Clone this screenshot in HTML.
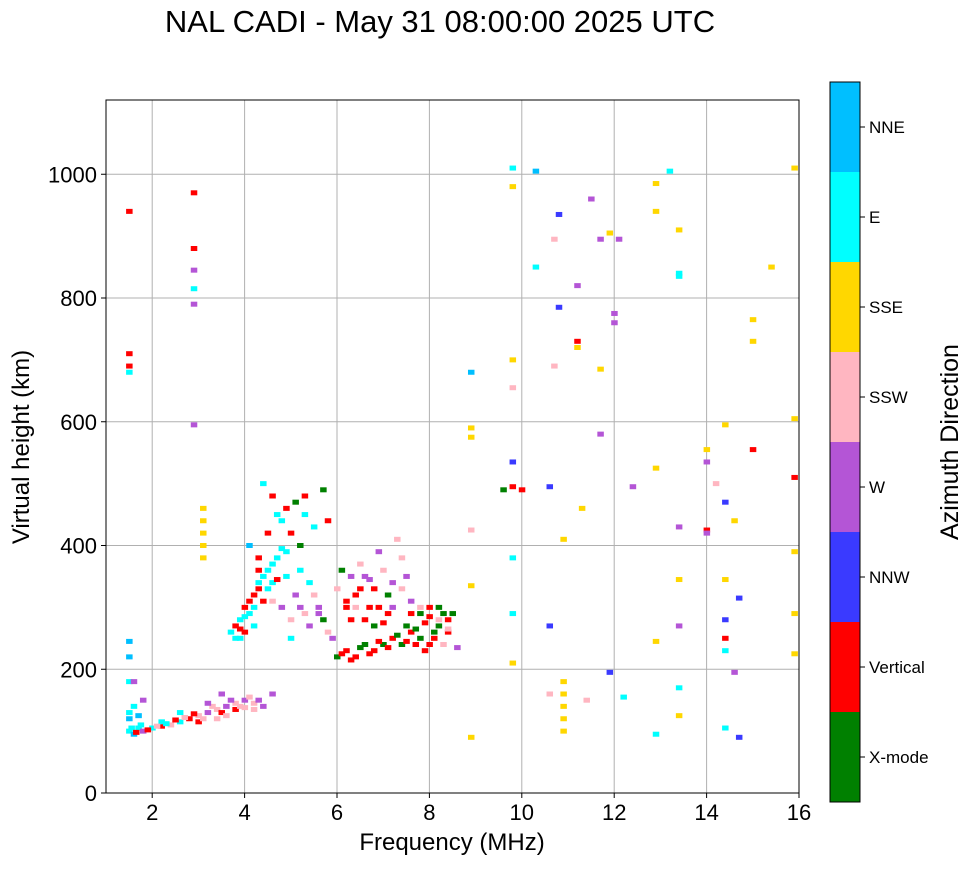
<!DOCTYPE html>
<html><head><meta charset="utf-8">
<style>
body{margin:0;background:#fff;font-family:"Liberation Sans",sans-serif;}
</style></head>
<body>
<svg id="chart" width="972" height="865" xmlns="http://www.w3.org/2000/svg" style="font-family:'Liberation Sans',sans-serif">
<text x="440" y="32" font-size="31" text-anchor="middle">NAL CADI - May 31 08:00:00 2025 UTC</text>
<g id="grid"></g>
<g id="marks"></g>
<rect x="106" y="100" width="693" height="693" fill="none" stroke="#000" stroke-width="1"/>
<g id="xticks"></g>
<g id="yticks"></g>
<text x="452" y="850" font-size="24" text-anchor="middle">Frequency (MHz)</text>
<text transform="translate(29,447) rotate(-90)" font-size="24" text-anchor="middle">Virtual height (km)</text>
<g id="cbar"></g>
<text transform="translate(958,442) rotate(-90)" font-size="25" text-anchor="middle">Azimuth Direction</text>
</svg>
<script>
const dirLabels=["X-mode","Vertical","NNW","W","SSW","SSE","E","NNE"];
const dirColors=["#008000","#ff0000","#3a3aff","#b455d6","#ffb6c1","#ffd700","#00ffff","#00bfff"];
const xTicks=[2,4,6,8,10,12,14,16];
const yTicks=[0,200,400,600,800,1000];
const freqs=[1.5,1.6,1.7,1.8,2.0,2.2,2.4,2.6,2.8,3.0,3.2,3.4,3.6,3.8,4.0,4.2,4.4,4.6,3.0,3.4,3.8,4.2,2.2,1.5,1.5,1.5,1.5,1.5,1.8,1.6,
3.7,3.8,3.9,4.0,4.1,4.2,4.3,4.4,4.5,4.6,4.7,4.8,4.9,5.0,5.2,5.4,5.5,5.6,5.8,4.3,4.5,4.7,4.9,5.1,5.3,5.5,5.7,4.4,4.1,3.9,5.2,5.8,5.0,
6.0,6.2,6.4,6.6,6.8,7.0,7.2,7.4,7.6,7.8,8.0,8.2,8.4,8.5,6.2,6.4,6.6,6.8,7.0,7.2,7.4,7.6,7.8,8.0,8.2,6.3,6.7,7.1,7.5,6.1,6.5,6.9,7.3,6.0,7.9,8.3,
1.5,1.5,1.5,1.5,2.9,2.9,2.9,2.9,2.9,2.9,3.1,3.1,3.1,3.1,3.1,8.9,8.9,8.9,8.9,8.9,8.9,9.8,9.8,9.8,9.8,9.8,9.6,9.8,10.0,9.8,9.8,9.8,10.3,10.3,10.7,10.7,10.6,10.6,10.8,10.8,10.9,10.9,10.9,10.9,10.9,10.9,11.2,11.2,11.2,11.5,11.3,11.7,11.9,12.1,12.0,12.0,11.7,11.7,11.9,12.2,12.9,12.9,12.9,12.9,12.9,13.2,13.4,13.4,13.4,13.4,13.4,13.4,13.4,13.4,14.0,14.0,14.0,14.0,14.4,14.4,14.4,14.4,14.4,14.4,14.4,14.7,14.6,14.7,15.0,15.0,15.0,15.4,15.9,15.9,15.9,15.9,15.9,15.9,14.2,14.6,12.4,10.6,11.4,
1.55,1.65,1.75,1.9,2.1,2.3,2.5,2.7,2.9,3.1,3.3,3.5,3.7,3.9,4.1,4.3,3.6,3.2,4.0,3.5,2.6,1.6,1.7,
3.8,3.9,4.0,4.1,4.2,4.3,4.4,4.5,4.6,4.7,4.8,4.2,4.0,4.3,4.6,5.1,5.3,5.6,5.4,5.9,5.7,4.6,4.8,5.0,5.3,4.9,5.2,
6.1,6.3,6.5,6.7,6.9,7.1,7.3,7.5,7.7,7.9,8.1,8.3,8.0,8.2,8.4,6.2,6.4,6.6,6.8,7.0,7.2,7.4,7.6,7.8,6.5,6.3,6.7,7.1,7.5,6.9,8.1,7.7,8.6,8.4];
const heights=[100,95,105,100,105,108,110,115,120,125,130,135,140,145,150,145,140,160,115,120,135,135,115,130,120,180,220,245,150,180,
260,270,280,300,290,320,340,310,360,340,380,300,350,280,300,270,320,290,260,380,420,450,460,470,480,430,490,500,400,250,400,440,250,
220,230,220,240,230,240,250,240,260,250,240,270,260,290,300,320,350,330,360,340,380,310,290,300,280,280,300,290,270,360,370,390,410,330,230,240,
940,710,690,680,970,880,845,815,790,595,460,440,420,400,380,680,590,575,425,335,90,1010,980,700,655,535,490,495,490,380,290,210,1005,850,895,690,495,270,935,785,180,160,140,120,100,410,820,730,720,960,460,895,905,895,775,760,685,580,195,155,985,940,525,245,95,1005,910,840,835,345,430,270,170,125,555,535,425,420,595,470,345,280,250,230,105,90,195,315,765,730,555,850,1010,605,510,390,290,225,500,440,495,160,150,
105,98,110,102,108,112,118,122,128,120,140,130,150,140,155,150,125,145,138,160,130,140,125,
250,265,285,310,300,330,350,330,370,345,395,270,260,360,310,320,290,300,340,250,280,480,440,420,450,390,360,
225,215,235,225,245,235,255,245,265,275,250,290,285,300,280,310,300,280,270,275,300,330,290,300,330,350,345,320,350,300,260,240,235,265];
const dirs=[6,7,6,3,6,1,4,6,1,4,3,4,3,4,3,4,3,3,1,4,1,4,6,6,7,6,7,7,3,3,
6,1,6,1,6,1,6,1,6,6,6,3,6,4,3,3,4,3,4,1,1,6,1,0,1,6,0,6,7,6,0,1,6,
0,1,1,0,1,0,1,0,1,0,1,0,1,0,1,1,3,1,4,3,4,3,0,1,4,1,1,1,0,0,4,3,4,4,1,4,
1,1,1,6,1,1,3,6,3,3,5,5,5,5,5,7,5,5,4,5,5,6,5,5,4,2,0,1,1,6,6,5,7,6,4,4,2,2,2,2,5,5,5,5,5,5,3,1,5,3,5,3,5,3,3,3,5,3,2,6,5,5,5,5,6,6,5,6,6,5,3,3,6,5,5,3,1,3,5,2,5,2,1,6,6,2,3,2,5,5,1,5,5,5,1,5,5,5,4,5,3,4,4,
6,1,6,1,4,6,1,4,1,4,4,1,3,4,4,3,4,3,4,3,6,6,7,
6,1,6,1,6,1,6,6,6,1,6,6,1,1,4,3,4,3,6,3,0,1,6,1,6,6,6,
1,1,0,1,1,1,0,1,0,1,1,0,1,0,1,1,4,1,0,1,3,4,1,4,1,3,3,0,3,1,0,1,3,4];
const NS="http://www.w3.org/2000/svg";
const X0=106,X1=799,Y0=793,Y1=100;
const xs=f=>X0+(f-1)/(16-1)*(X1-X0);
const ys=h=>Y0-h/1120*(Y0-Y1);
function mk(tag,attrs,parent){const e=document.createElementNS(NS,tag);for(const k in attrs)e.setAttribute(k,attrs[k]);parent.appendChild(e);return e;}
const grid=document.getElementById('grid'),xt=document.getElementById('xticks'),yt=document.getElementById('yticks'),mg=document.getElementById('marks'),cb=document.getElementById('cbar');
xTicks.forEach(t=>{const x=xs(t);
 const l=mk('line',{x1:x,x2:x,y1:Y1,y2:Y0,stroke:'#b0b0b0','stroke-width':1},grid);
 
 
 mk('line',{x1:x,x2:x,y1:Y0,y2:Y0+5,stroke:'#000'},xt);
 const tx=mk('text',{x:x,y:Y0+27,'font-size':22,'text-anchor':'middle'},xt);tx.textContent=t;
 
 });
yTicks.forEach(t=>{const y=ys(t);
 const l=mk('line',{x1:X0,x2:X1,y1:y,y2:y,stroke:'#b0b0b0','stroke-width':1},grid);
 
 
 mk('line',{x1:X0-5,x2:X0,y1:y,y2:y,stroke:'#000'},yt);
 const tx=mk('text',{x:X0-9,y:y+8,'font-size':22,'text-anchor':'end'},yt);tx.textContent=t;
 
 });
for(let i=0;i<freqs.length;i++){
 const r=mk('rect',{x:xs(freqs[i])-3,y:ys(heights[i])-2.5,width:6.5,height:5,fill:dirColors[dirs[i]]},mg);
 
 }
const CB0=82,CBH=720,seg=CBH/8;
dirLabels.forEach((lab,i)=>{const y=CB0+CBH-(i+1)*seg;
 const r=mk('rect',{x:830,y:y,width:30,height:seg,fill:dirColors[i]},cb);
 
 
 const yc=y+seg/2;
 mk('line',{x1:860,x2:865,y1:yc,y2:yc,stroke:'#000'},cb);
 const tx=mk('text',{x:869,y:yc+6,'font-size':17},cb);tx.textContent=lab;
 
 });
mk('rect',{x:830,y:CB0,width:30,height:CBH,fill:'none',stroke:'#000'},cb);
</script>
</body></html>
